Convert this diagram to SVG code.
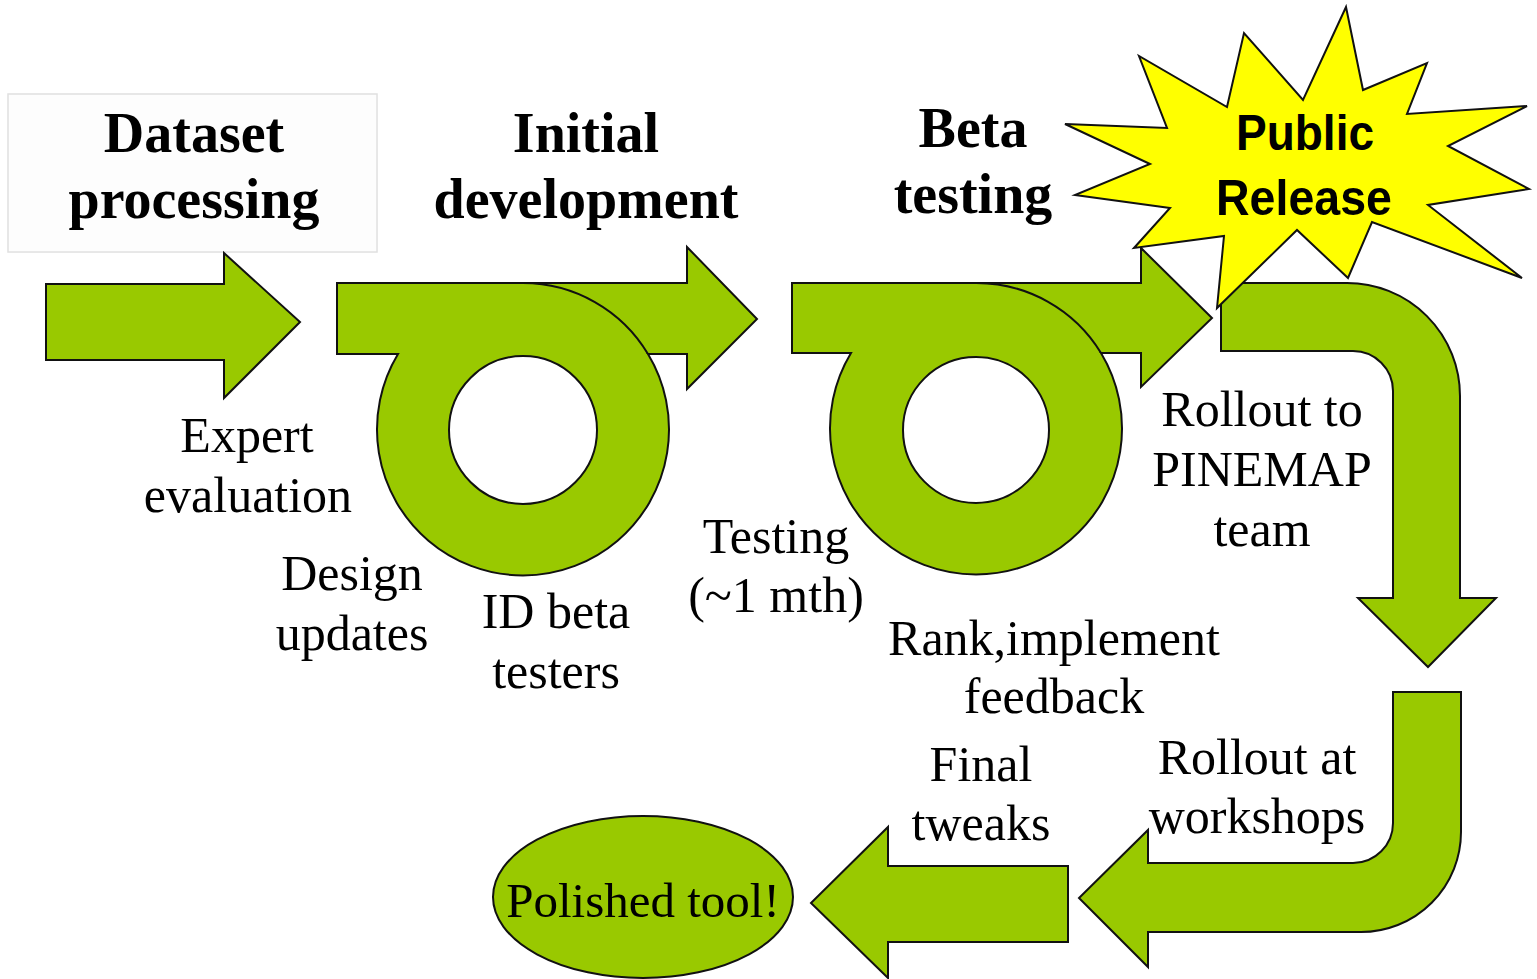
<svg xmlns="http://www.w3.org/2000/svg" width="1537" height="979" viewBox="0 0 1537 979">
<style>
.g{fill:#99c900;stroke:#111;stroke-width:2;stroke-linejoin:miter}
.ln{fill:none;stroke:#111;stroke-width:2}
.t{font-family:"Liberation Serif",serif;font-size:50px;fill:#000;text-anchor:middle}
.p{font-family:"Liberation Serif",serif;font-size:49px;fill:#000;text-anchor:middle}
.h{font-family:"Liberation Serif",serif;font-size:56px;font-weight:bold;fill:#000;text-anchor:middle}
.s{font-family:"Liberation Sans",sans-serif;font-size:50px;font-weight:bold;fill:#000;text-anchor:middle}
</style>
<rect width="1537" height="979" fill="#fff"/>
<g id="dataset-processing">
<rect x="8" y="94" width="369" height="158" fill="#fdfdfd" stroke="#e0e0e0" stroke-width="1.5"/>
<text class="h" x="194" y="152">Dataset</text>
<text class="h" x="194" y="218">processing</text>
</g>
<g id="initial-development">
<text class="h" x="586" y="152">Initial</text>
<text class="h" x="586" y="218">development</text>
</g>
<g id="beta-testing">
<text class="h" x="973" y="147">Beta</text>
<text class="h" x="973" y="213">testing</text>
</g>
<g id="connectors">
<path class="g" d="M46,284 H224 V253 L300,322 L224,398 V360 H46 Z"/>
<path class="g" fill-rule="evenodd" d="M337,283 H687 V247 L757,319 L687,389 V354 H648 A146,146 0 1 1 398,354 H337 Z M597,430 A74,74 0 1 0 449,430 A74,74 0 1 0 597,430 Z"/>
<path class="ln" d="M523,283 A146,146 0 0 1 648,354"/>
<path class="g" fill-rule="evenodd" d="M792,283 H1141 V248 L1212,318 L1141,387 V353 H1101 A146,146 0 1 1 851,353 H792 Z M1049,430 A73,73 0 1 0 903,430 A73,73 0 1 0 1049,430 Z"/>
<path class="ln" d="M976,283 A146,146 0 0 1 1101,353"/>
<path class="g" d="M1221,283 H1347 A113,113 0 0 1 1460,396 V598 H1496 L1428,667 L1358,598 H1393 V391 A40,40 0 0 0 1353,351 H1221 Z"/>
<path class="g" d="M1393,692 H1461 V832 A100,100 0 0 1 1361,932 H1148 V967 L1079,898 L1148,830 V863 H1353 A40,40 0 0 0 1393,823 Z"/>
<path class="g" d="M1068,866 V942 H888 V978 L811,903 L888,827 V866 Z"/>
</g>
<g id="public-release">
<polygon fill="#ffff00" stroke="#111" stroke-width="2" points="1346,7 1363,90 1427,63 1407,114 1527,106 1448,146 1529,189 1428,205 1522,278 1372,222 1348,278 1297,230 1217,308 1224,236 1134,248 1170,208 1075,195 1150,164 1065,124 1167,128 1139,56 1227,107 1244,33 1303,100"/>
<text class="s" x="1305" y="150" textLength="138" lengthAdjust="spacingAndGlyphs">Public</text>
<text class="s" x="1304" y="215" textLength="176" lengthAdjust="spacingAndGlyphs">Release</text>
</g>
<g id="polished-tool">
<ellipse cx="643" cy="897" rx="150" ry="81" class="g"/>
<text class="p" x="643" y="917">Polished tool!</text>
</g>
<g id="labels">
<g id="expert-evaluation"><text class="t" x="247" y="452">Expert</text><text class="t" x="248" y="512">evaluation</text></g>
<g id="design-updates"><text class="t" x="352" y="590">Design</text><text class="t" x="352" y="650">updates</text></g>
<g id="id-beta-testers"><text class="t" x="556" y="628">ID beta</text><text class="t" x="556" y="688">testers</text></g>
<g id="testing"><text class="t" x="776" y="553">Testing</text><text class="t" x="776" y="612">(~1 mth)</text></g>
<g id="rollout-pinemap"><text class="t" x="1262" y="426">Rollout to</text><text class="t" x="1262" y="486">PINEMAP</text><text class="t" x="1262" y="546">team</text></g>
<g id="rank-feedback"><text class="t" x="1054" y="655">Rank,implement</text><text class="t" x="1054" y="713">feedback</text></g>
<g id="final-tweaks"><text class="t" x="981" y="781">Final</text><text class="t" x="981" y="840">tweaks</text></g>
<g id="rollout-workshops"><text class="t" x="1257" y="774">Rollout at</text><text class="t" x="1257" y="833">workshops</text></g>
</g>
</svg>
